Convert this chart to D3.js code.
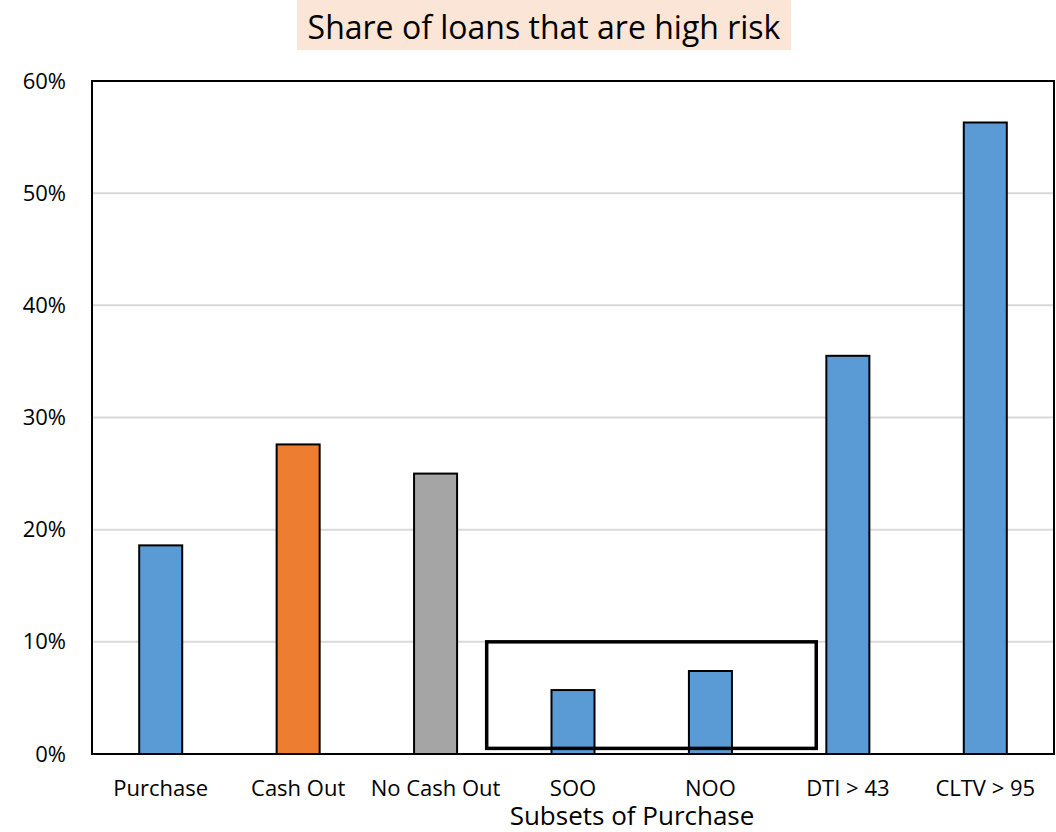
<!DOCTYPE html>
<html>
<head>
<meta charset="utf-8">
<script src="https://cdn.jsdelivr.net/npm/d3@7"></script>
<style>
  html, body { margin: 0; padding: 0; background: #fff; }
  svg { display: block; font-family: "Open Sans", Lato, sans-serif; }
</style>
</head>
<body>
<svg id="chart" width="1056" height="832"></svg>
<script>
// Share of loans flagged as high risk, by loan subset
const categories = ["Purchase", "Cash Out", "No Cash Out", "SOO", "NOO", "DTI > 43", "CLTV > 95"];
const shares = [0.186, 0.276, 0.250, 0.057, 0.074, 0.355, 0.563];
const barColors = ["#5b9bd5", "#ed7d31", "#a5a5a5", "#5b9bd5", "#5b9bd5", "#5b9bd5", "#5b9bd5"];
const yTicks = [0, 0.1, 0.2, 0.3, 0.4, 0.5, 0.6];
const highlighted = ["SOO", "NOO"];   // subsets of purchase, boxed together
const highlightRange = [0.005, 0.10];

const chartTitle = "Share of loans that are high risk";
const xTitle = "Subsets of Purchase";

const FONT = "'Open Sans', Lato, sans-serif";
const svg = d3.select("#chart");
const margin = { left: 92, right: 2, top: 81, bottom: 78 };
const W = 1056, H = 832;

const x = d3.scaleBand()
  .domain(categories)
  .range([margin.left, W - margin.right])
  .paddingInner(0.687)
  .paddingOuter(0.3435);

const y = d3.scaleLinear()
  .domain([0, 0.6])
  .range([H - margin.bottom, margin.top]);

// gridlines
svg.append("g")
  .selectAll("line")
  .data(yTicks.filter(t => t > 0 && t < 0.6))
  .join("line")
  .attr("x1", margin.left).attr("x2", W - margin.right)
  .attr("y1", d => y(d)).attr("y2", d => y(d))
  .attr("stroke", "#d9d9d9").attr("stroke-width", 2);

// y axis labels
const yAxis = d3.axisLeft(y)
  .tickValues(yTicks)
  .tickFormat(d3.format(".0%"))
  .tickSize(0)
  .tickPadding(26);
svg.append("g")
  .attr("transform", `translate(${margin.left},0)`)
  .call(yAxis)
  .call(g => g.select(".domain").remove())
  .call(g => g.selectAll("text")
    .attr("font-size", 22).attr("fill", "#000")
    .attr("font-family", FONT));

// bars
svg.append("g")
  .selectAll("rect")
  .data(categories)
  .join("rect")
  .attr("x", d => x(d))
  .attr("width", x.bandwidth())
  .attr("y", (d, i) => y(shares[i]))
  .attr("height", (d, i) => y(0) - y(shares[i]))
  .attr("fill", (d, i) => barColors[i])
  .attr("stroke", "#000")
  .attr("stroke-width", 2);

// plot frame
svg.append("rect")
  .attr("x", margin.left).attr("y", margin.top)
  .attr("width", W - margin.right - margin.left)
  .attr("height", y(0) - margin.top)
  .attr("fill", "none").attr("stroke", "#000").attr("stroke-width", 2);

// x axis labels
const xAxis = d3.axisBottom(x).tickSize(0).tickPadding(26);
svg.append("g")
  .attr("transform", `translate(0,${y(0)})`)
  .call(xAxis)
  .call(g => g.select(".domain").remove())
  .call(g => g.selectAll("text")
    .attr("font-size", 22).attr("fill", "#000")
    .attr("font-family", FONT));

// box around the purchase subsets
const step = x.step();
const hx0 = x(highlighted[0]) + x.bandwidth() / 2 - 0.628 * step;
const hx1 = x(highlighted[1]) + x.bandwidth() / 2 + 0.77 * step;
svg.append("rect")
  .attr("x", hx0).attr("y", y(highlightRange[1]))
  .attr("width", hx1 - hx0)
  .attr("height", y(highlightRange[0]) - y(highlightRange[1]))
  .attr("fill", "none").attr("stroke", "#000").attr("stroke-width", 3.5);

// axis title
svg.append("text")
  .attr("x", 632).attr("y", 825)
  .attr("text-anchor", "middle")
  .attr("font-size", 26)
  .text(xTitle);

// chart title on a tinted band
const titleG = svg.append("g");
titleG.append("rect")
  .attr("x", 297).attr("y", 0)
  .attr("width", 494).attr("height", 50)
  .attr("fill", "#fbe5d6");
titleG.append("text")
  .attr("x", 544).attr("y", 39)
  .attr("text-anchor", "middle")
  .attr("font-size", 32)
  .text(chartTitle);
</script>
</body>
</html>
